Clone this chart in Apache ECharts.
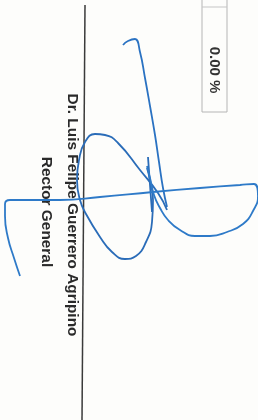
<!DOCTYPE html>
<html>
<head>
<meta charset="utf-8">
<title>firma</title>
<script src="https://cdn.jsdelivr.net/npm/echarts@6/dist/echarts.min.js"></script>
<style>
  html, body { margin: 0; padding: 0; background: #fdfdfb; }
  #chart { width: 258px; height: 420px; }
</style>
</head>
<body>
<div id="chart"></div>
<script>
// trazos de la firma, en coordenadas de la hoja (x, y)
var trazoGancho = [[123,45],[128,41],[135,39],[140,52],[145,78],[150,106],[155,135],[159,162],[163,188],[167,207]];
var trazoArco = [[167,210],[158,193],[140,170],[118,143],[105,135],[95,134],[85,142],[79,160],[77,180],[80,200],[86,214],[100,237],[112,252],[125,259],[136,256],[146,242],[152,222],[153,200],[150,180],[147,168]];
var trazoCorto = [[148,157],[150,185],[152,212]];
var trazoLargo = [[20,276],[14,258],[8,238],[5,216],[5,204],[10,200],[30,200],[60,200],[100,197],[153,192],[200,188],[240,185],[254,184],[258,196],[253,211],[243,224],[227,232],[210,236],[195,236],[180,230],[168,220],[160,208],[154,195],[150,178],[147,166]];
var lineaFirma = [[85,5],[82,420]];

var nombre = 'Dr. Luis Felipe Guerrero Agripino';
var cargo = 'Rector General';
var porcentaje = '0.00 %';

var myChart = echarts.init(document.getElementById('chart'));

function trazo(datos, color, ancho) {
    return {
        type: 'line',
        data: datos,
        smooth: true,
        symbol: 'none',
        silent: true,
        lineStyle: { color: color, width: ancho }
    };
}

var option = {
    animation: false,
    backgroundColor: '#fdfdfb',
    grid: { left: 0, right: 0, top: 0, bottom: 0 },
    xAxis: { type: 'value', min: 0, max: 258, show: false },
    yAxis: { type: 'value', min: 0, max: 420, inverse: true, show: false },
    graphic: [
        { type: 'line', shape: { x1: 202, y1: 0, x2: 202, y2: 112 }, style: { stroke: '#b5b5b5', lineWidth: 1 } },
        { type: 'line', shape: { x1: 227, y1: 0, x2: 227, y2: 112 }, style: { stroke: '#b5b5b5', lineWidth: 1 } },
        { type: 'line', shape: { x1: 202, y1: 7, x2: 227, y2: 7 }, style: { stroke: '#c5c5c5', lineWidth: 1 } },
        { type: 'line', shape: { x1: 202, y1: 112, x2: 227, y2: 112 }, style: { stroke: '#b5b5b5', lineWidth: 1 } },
        {
            type: 'text', x: 214, y: 70, rotation: -Math.PI / 2,
            style: { text: porcentaje, fill: '#333', font: 'bold 15px "Liberation Sans", Arial, sans-serif', align: 'center', verticalAlign: 'middle' }
        },
        {
            type: 'text', x: 72, y: 215, rotation: -Math.PI / 2,
            style: { text: nombre, fill: '#2a2a2a', font: 'bold 15.4px "Liberation Sans", Arial, sans-serif', align: 'center', verticalAlign: 'middle' }
        },
        {
            type: 'text', x: 46, y: 212, rotation: -Math.PI / 2,
            style: { text: cargo, fill: '#2a2a2a', font: 'bold 15.4px "Liberation Sans", Arial, sans-serif', align: 'center', verticalAlign: 'middle' }
        }
    ],
    series: [
        trazo(lineaFirma, '#3a3a3a', 1.5),
        trazo(trazoGancho, '#2a72c2', 1.8),
        trazo(trazoArco, '#2a6cb8', 1.8),
        trazo(trazoCorto, '#2a6cb8', 1.8),
        trazo(trazoLargo, '#2e7ac8', 1.8)
    ]
};

myChart.setOption(option);
</script>
</body>
</html>
